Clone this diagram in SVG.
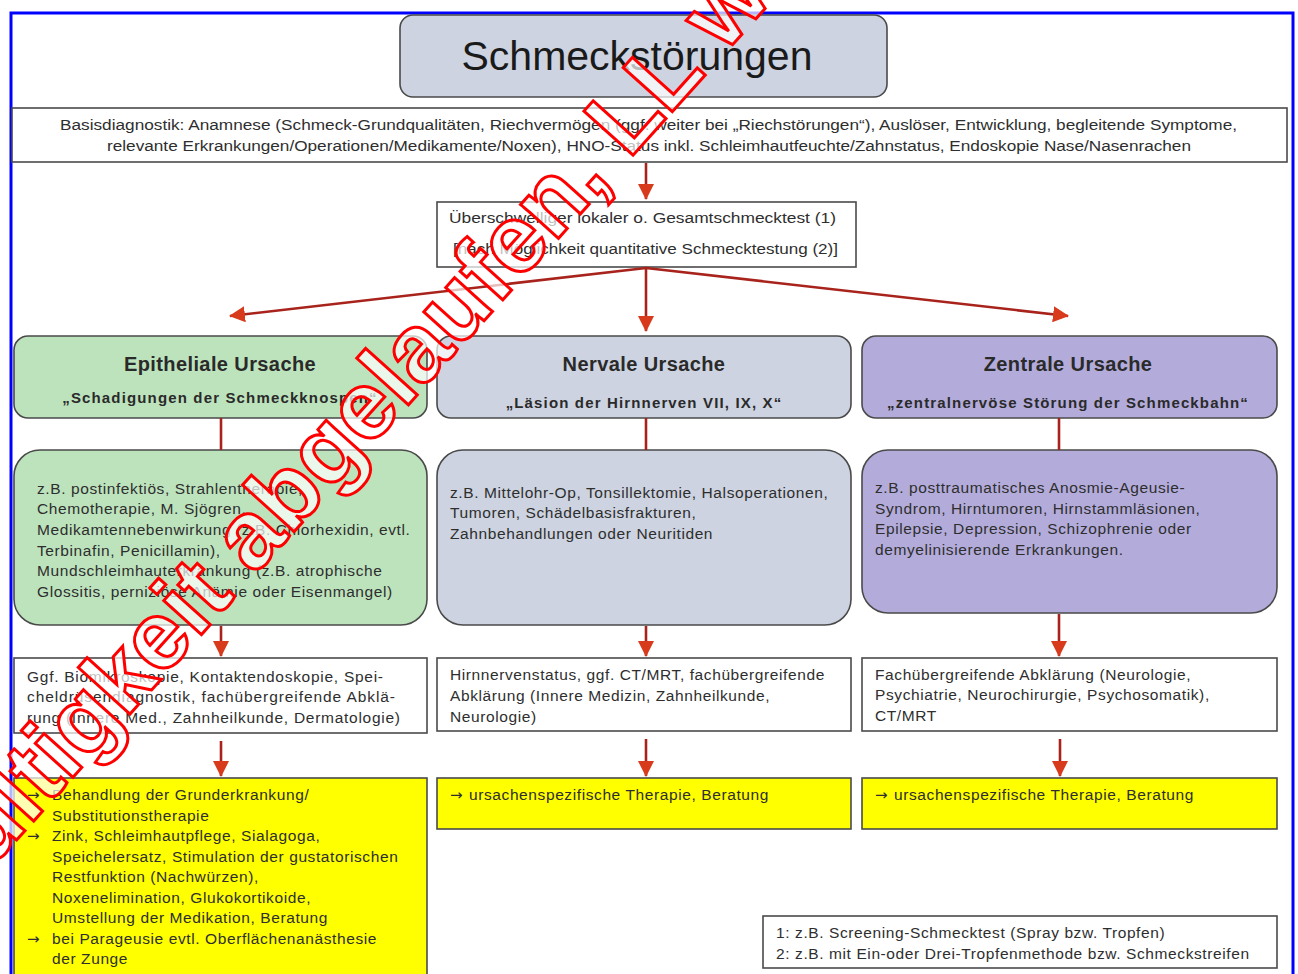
<svg xmlns="http://www.w3.org/2000/svg" width="1298" height="974" viewBox="0 0 1298 974">
<defs>
<style>
.t{font-family:"Liberation Sans",Arial,sans-serif;font-size:15.5px;letter-spacing:0.6px;fill:#2e2e2e}
.ar{font-family:"DejaVu Sans",sans-serif;font-size:15px;fill:#2e2e2e}
.hd{font-family:"Liberation Sans",Arial,sans-serif;font-size:20px;letter-spacing:0.4px;font-weight:bold;fill:#2a2a2a}
.sub{font-family:"Liberation Sans",Arial,sans-serif;font-size:15px;letter-spacing:1.15px;font-weight:bold;fill:#2a2a2a}
.box{stroke:#4a4a4a;stroke-width:1.6}
.con{stroke:#a8231b;stroke-width:2.6;fill:none}
.wm{font-family:"Liberation Sans",Arial,sans-serif;font-size:96px;font-weight:bold;fill:#ffffff;fill-opacity:0.7;stroke:#ff0000;stroke-width:3}
</style>
<marker id="ah" viewBox="0 0 16 16" refX="15" refY="8" markerWidth="16" markerHeight="16" markerUnits="userSpaceOnUse" orient="auto">
<path d="M0,0 L16,8 L0,16 Z" fill="#d83a1c"/>
</marker>
</defs>
<rect x="0" y="0" width="1298" height="974" fill="#ffffff"/>
<rect x="11" y="13" width="1282" height="980" fill="none" stroke="#0000ff" stroke-width="3"/>

<g id="title">
<rect class="box" x="400" y="15" width="487" height="82" rx="13" fill="#cdd3e0"/>
<text x="637" y="70" text-anchor="middle" font-family="Liberation Sans, Arial, sans-serif" font-size="41" fill="#1a1a1a">Schmeckstörungen</text>
</g>

<g id="basis">
<rect class="box" x="12" y="108" width="1275" height="54" fill="#ffffff"/>
<text class="t" x="60" y="130" style="letter-spacing:0" textLength="1177" lengthAdjust="spacingAndGlyphs">Basisdiagnostik: Anamnese (Schmeck-Grundqualitäten, Riechvermögen (ggf. weiter bei „Riechstörungen“), Auslöser, Entwicklung, begleitende Symptome,</text>
<text class="t" x="107" y="151" style="letter-spacing:0" textLength="1084" lengthAdjust="spacingAndGlyphs">relevante Erkrankungen/Operationen/Medikamente/Noxen),  HNO-Status inkl. Schleimhautfeuchte/Zahnstatus, Endoskopie Nase/Nasenrachen</text>
</g>

<g id="test">
<rect class="box" x="437" y="202" width="419" height="65" fill="#ffffff"/>
<text class="t" x="449" y="223" style="letter-spacing:0" textLength="387" lengthAdjust="spacingAndGlyphs">Überschwelliger  lokaler o. Gesamtschmecktest (1)</text>
<text class="t" x="453" y="254" style="letter-spacing:0" textLength="385" lengthAdjust="spacingAndGlyphs">[nach Möglichkeit quantitative Schmecktestung (2)]</text>
</g>

<g id="epi-head">
<rect class="box" x="14" y="336" width="413" height="82" rx="14" fill="#bde3bd"/>
<text class="hd" x="220" y="371" text-anchor="middle">Epitheliale Ursache</text>
<text class="sub" x="220" y="403" text-anchor="middle">„Schadigungen der Schmeckknospen“</text>
</g>
<g id="nerv-head">
<rect class="box" x="437" y="336" width="414" height="82" rx="14" fill="#cdd3e0"/>
<text class="hd" x="644" y="371" text-anchor="middle">Nervale Ursache</text>
<text class="sub" x="644" y="408" text-anchor="middle">„Läsion der Hirnnerven VII, IX, X“</text>
</g>
<g id="zent-head">
<rect class="box" x="862" y="336" width="415" height="82" rx="14" fill="#b3acdb"/>
<text class="hd" x="1068" y="371" text-anchor="middle">Zentrale Ursache</text>
<text class="sub" x="1068" y="408" text-anchor="middle">„zentralnervöse Störung der Schmeckbahn“</text>
</g>

<g id="epi-detail">
<rect class="box" x="14" y="450" width="413" height="175" rx="26" fill="#bde3bd"/>
<text class="t" x="37" y="494">z.B. postinfektiös, Strahlentherapie,</text>
<text class="t" x="37" y="514">Chemotherapie, M. Sjögren,</text>
<text class="t" x="37" y="535">Medikamtennebenwirkung (z.B. Chlorhexidin, evtl.</text>
<text class="t" x="37" y="556">Terbinafin, Penicillamin),</text>
<text class="t" x="37" y="576">Mundschleimhauterkrankung (z.B. atrophische</text>
<text class="t" x="37" y="597">Glossitis, perniziöse Anämie oder Eisenmangel)</text>
</g>
<g id="nerv-detail">
<rect class="box" x="437" y="450" width="414" height="175" rx="26" fill="#cdd3e0"/>
<text class="t" x="450" y="498">z.B. Mittelohr-Op, Tonsillektomie, Halsoperationen,</text>
<text class="t" x="450" y="518">Tumoren, Schädelbasisfrakturen,</text>
<text class="t" x="450" y="539">Zahnbehandlungen oder Neuritiden</text>
</g>
<g id="zent-detail">
<rect class="box" x="862" y="450" width="415" height="163" rx="26" fill="#b3acdb"/>
<text class="t" x="875" y="493">z.B. posttraumatisches Anosmie-Ageusie-</text>
<text class="t" x="875" y="514">Syndrom, Hirntumoren, Hirnstammläsionen,</text>
<text class="t" x="875" y="534">Epilepsie, Depression, Schizophrenie oder</text>
<text class="t" x="875" y="555">demyelinisierende Erkrankungen.</text>
</g>

<g id="epi-diag">
<rect class="box" x="14" y="658" width="413" height="75" fill="#ffffff"/>
<text class="t" x="27" y="682" style="letter-spacing:0" textLength="356" lengthAdjust="spacing">Ggf. Biomikroskopie, Kontaktendoskopie, Spei-</text>
<text class="t" x="27" y="702" style="letter-spacing:0" textLength="368" lengthAdjust="spacing">cheldrüsendiagnostik,  fachübergreifende  Abklä-</text>
<text class="t" x="27" y="723" style="letter-spacing:0" textLength="373" lengthAdjust="spacing">rung (Innere Med., Zahnheilkunde, Dermatologie)</text>
</g>
<g id="nerv-diag">
<rect class="box" x="437" y="658" width="414" height="73" fill="#ffffff"/>
<text class="t" x="450" y="680">Hirnnervenstatus, ggf. CT/MRT, fachübergreifende</text>
<text class="t" x="450" y="701">Abklärung (Innere Medizin, Zahnheilkunde,</text>
<text class="t" x="450" y="722">Neurologie)</text>
</g>
<g id="zent-diag">
<rect class="box" x="862" y="658" width="415" height="73" fill="#ffffff"/>
<text class="t" x="875" y="680">Fachübergreifende Abklärung (Neurologie,</text>
<text class="t" x="875" y="700">Psychiatrie, Neurochirurgie, Psychosomatik),</text>
<text class="t" x="875" y="721">CT/MRT</text>
</g>

<g id="epi-ther">
<rect class="box" x="14" y="778" width="413" height="210" fill="#ffff00"/>
<text class="ar" x="27" y="800">→</text><text class="t" x="52" y="800">Behandlung der Grunderkrankung/</text>
<text class="t" x="52" y="821">Substitutionstherapie</text>
<text class="ar" x="27" y="841">→</text><text class="t" x="52" y="841">Zink, Schleimhautpflege, Sialagoga,</text>
<text class="t" x="52" y="862">Speichelersatz, Stimulation der gustatorischen</text>
<text class="t" x="52" y="882">Restfunktion (Nachwürzen),</text>
<text class="t" x="52" y="903">Noxenelimination, Glukokortikoide,</text>
<text class="t" x="52" y="923">Umstellung der Medikation, Beratung</text>
<text class="ar" x="27" y="944">→</text><text class="t" x="52" y="944">bei Parageusie evtl. Oberflächenanästhesie</text>
<text class="t" x="52" y="964">der Zunge</text>
</g>
<g id="nerv-ther">
<rect class="box" x="437" y="778" width="414" height="51" fill="#ffff00"/>
<text class="ar" x="450" y="800">→</text><text class="t" x="469" y="800">ursachenspezifische Therapie, Beratung</text>
</g>
<g id="zent-ther">
<rect class="box" x="862" y="778" width="415" height="51" fill="#ffff00"/>
<text class="ar" x="875" y="800">→</text><text class="t" x="894" y="800">ursachenspezifische Therapie, Beratung</text>
</g>

<g id="footnote">
<rect class="box" x="763" y="916" width="514" height="52" fill="#ffffff"/>
<text class="t" x="776" y="938">1: z.B. Screening-Schmecktest (Spray bzw. Tropfen)</text>
<text class="t" x="776" y="959">2: z.B. mit Ein-oder Drei-Tropfenmethode bzw. Schmeckstreifen</text>
</g>

<g id="connectors">
<path class="con" d="M646,163 L646,199" marker-end="url(#ah)"/>
<path class="con" d="M646,268 L230,316" marker-end="url(#ah)"/>
<path class="con" d="M646,268 L646,331" marker-end="url(#ah)"/>
<path class="con" d="M646,268 L1068,316" marker-end="url(#ah)"/>
<path class="con" d="M221,418 L221,450"/>
<path class="con" d="M646,418 L646,450"/>
<path class="con" d="M1059,418 L1059,450"/>
<path class="con" d="M221,626 L221,656" marker-end="url(#ah)"/>
<path class="con" d="M646,626 L646,656" marker-end="url(#ah)"/>
<path class="con" d="M1059,614 L1059,656" marker-end="url(#ah)"/>
<path class="con" d="M221,741 L221,776" marker-end="url(#ah)"/>
<path class="con" d="M646,739 L646,776" marker-end="url(#ah)"/>
<path class="con" d="M1060,739 L1060,776" marker-end="url(#ah)"/>
</g>

<g id="watermark">
<text class="wm" x="-60" y="925" transform="rotate(-48 -60 925)">Gültigkeit abgelaufen, LL wi</text>
</g>
</svg>
